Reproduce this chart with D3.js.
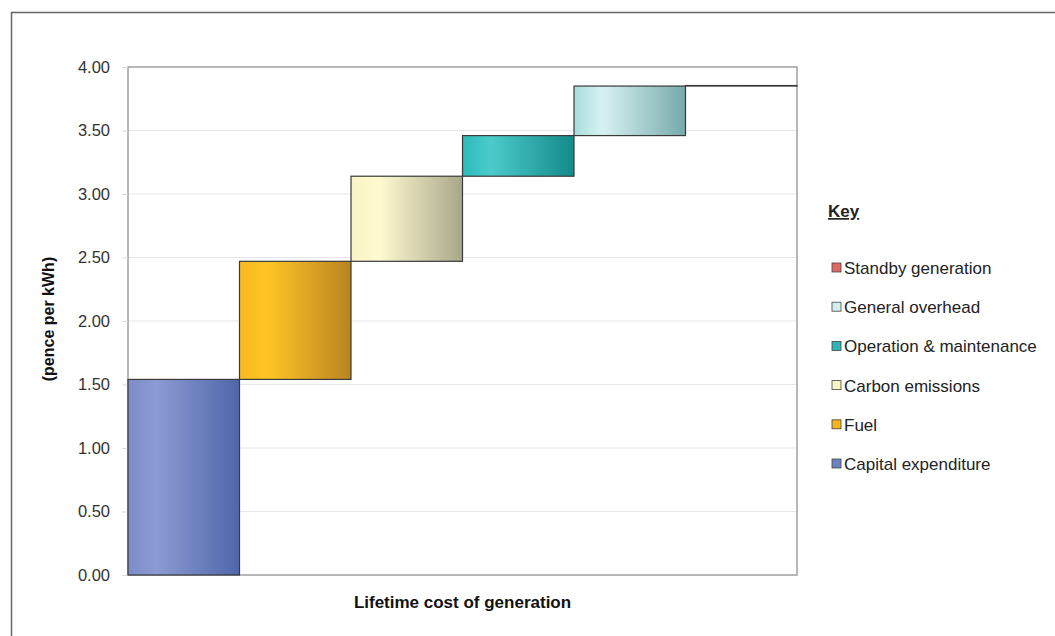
<!DOCTYPE html>
<html>
<head>
<meta charset="utf-8">
<script src="https://cdn.jsdelivr.net/npm/d3@7"></script>
<style>
  body { margin: 0; background: #fff; }
  svg { font-family: "Liberation Sans", Arial, sans-serif; }
  .tick text { fill: #333; font-size: 16.5px; }
  .legend text { fill: #222; font-size: 17px; }
</style>
</head>
<body>
<svg id="chart" width="1055" height="636"></svg>
<script>
// cost components, bottom to top of the stack
const categories = ["Capital expenditure", "Fuel", "Carbon emissions",
                    "Operation & maintenance", "General overhead", "Standby generation"];
const costs = [1.54, 0.93, 0.67, 0.32, 0.39, 0.004];
const yTicks = [0, 0.5, 1, 1.5, 2, 2.5, 3, 3.5, 4];
const colours = [
  ["#8c9bd2", "#7c8cc8", "#4f66ab"],
  ["#ffc526", "#f8b81f", "#b98420"],
  ["#fffad0", "#f8f4c4", "#a8a78a"],
  ["#4ccaca", "#2bbbbb", "#148a8a"],
  ["#d8f2f2", "#a6dcdc", "#77a9ab"],
  ["#f08080", "#e06868", "#c04848"]
];
const legendSwatch = ["#e06666", "#d6eeee", "#2fb3b5", "#f7f3c2", "#f2b51e", "#6f82c0"];

var margin = {top: 67, right: 258, bottom: 61, left: 128},
    width = 1055 - margin.left - margin.right,
    height = 636 - margin.top - margin.bottom;

var svg = d3.select("#chart");

// outer frame (left and top edges only visible)
svg.append("path")
  .attr("d", "M11.5,636 L11.5,12.5 L1055,12.5")
  .attr("fill", "none")
  .attr("stroke", "#666")
  .attr("stroke-width", 1.5);

var defs = svg.append("defs");
colours.forEach((c, i) => {
  let g = defs.append("linearGradient")
    .attr("id", "grad" + i)
    .attr("x1", "0%").attr("x2", "100%").attr("y1", "0%").attr("y2", "0%");
  g.append("stop").attr("offset", "0%").attr("stop-color", c[1]);
  g.append("stop").attr("offset", "25%").attr("stop-color", c[0]);
  g.append("stop").attr("offset", "100%").attr("stop-color", c[2]);
});

var g = svg.append("g")
  .attr("transform", `translate(${margin.left},${margin.top})`);

let x = d3.scaleBand()
  .domain(categories)
  .range([0, width])
  .padding(0);

let y = d3.scaleLinear()
  .domain([0, 4])
  .range([height, 0]);

// gridlines
g.selectAll("line.grid")
  .data(yTicks.slice(1, -1))
  .enter()
  .append("line")
  .attr("class", "grid")
  .attr("x1", 0).attr("x2", width)
  .attr("y1", d => y(d)).attr("y2", d => y(d))
  .attr("stroke", "#e6e6e6");

// plot area frame
g.append("rect")
  .attr("x", 0).attr("y", 0)
  .attr("width", width).attr("height", height)
  .attr("fill", "none")
  .attr("stroke", "#a0a0a0")
  .attr("stroke-width", 1.5);

let yAxis = d3.axisLeft(y)
  .tickValues(yTicks)
  .tickSize(6)
  .tickPadding(12)
  .tickFormat(d3.format(".2f"));

g.append("g")
  .attr("class", "yAxis")
  .call(yAxis)
  .call(s => s.select(".domain").remove())
  .call(s => s.selectAll(".tick line").attr("stroke", "#ddd"));

// waterfall steps
let start = 0;
let steps = categories.map((c, i) => {
  let s = {name: c, base: start, top: start + costs[i], i: i};
  start += costs[i];
  return s;
});

g.selectAll("rect.bar")
  .data(steps)
  .enter()
  .append("rect")
  .attr("class", "bar")
  .attr("x", d => x(d.name))
  .attr("width", x.bandwidth())
  .attr("y", d => y(d.top))
  .attr("height", d => Math.max(0.5, y(d.base) - y(d.top)))
  .style("fill", d => `url(#grad${d.i})`)
  .attr("stroke", "#3a3a3a")
  .attr("stroke-width", 1.2);

// axis titles
svg.append("text")
  .attr("x", margin.left + width / 2)
  .attr("y", 608)
  .attr("text-anchor", "middle")
  .style("font-size", "17px")
  .style("font-weight", "bold")
  .attr("fill", "#111")
  .text("Lifetime cost of generation");

svg.append("text")
  .attr("transform", `translate(54,${margin.top + height / 2 - 2}) rotate(-90)`)
  .attr("text-anchor", "middle")
  .style("font-size", "16px")
  .style("font-weight", "bold")
  .attr("fill", "#111")
  .text("(pence per kWh)");

// legend
let legend = svg.append("g").attr("class", "legend");

legend.append("text")
  .attr("x", 828)
  .attr("y", 217)
  .style("font-weight", "bold")
  .style("text-decoration", "underline")
  .text("Key");

let order = categories.map((c, i) => i).reverse();
let items = legend.selectAll("g.item")
  .data(order)
  .enter()
  .append("g")
  .attr("class", "item")
  .attr("transform", (d, k) => `translate(832,${268 + k * 39.2})`);

items.append("rect")
  .attr("x", 0).attr("y", -5)
  .attr("width", 9).attr("height", 9)
  .attr("fill", d => legendSwatch[order.length - 1 - d])
  .attr("stroke", "#444")
  .attr("stroke-width", 0.8);

items.append("text")
  .attr("x", 12)
  .attr("y", 6)
  .text(d => categories[d]);
</script>
</body>
</html>
